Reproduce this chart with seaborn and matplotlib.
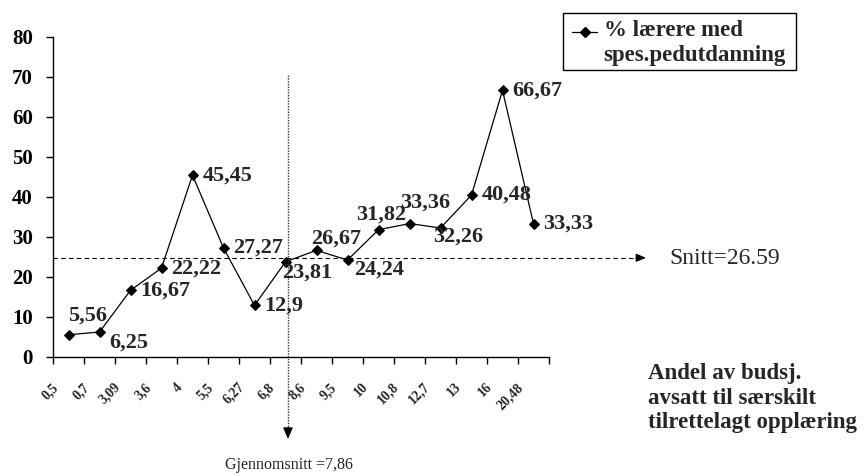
import matplotlib
matplotlib.use("Agg")
import matplotlib.pyplot as plt
import matplotlib.transforms as mtransforms
from matplotlib.lines import Line2D
from matplotlib.patches import Rectangle
import seaborn as sns
import pandas as pd

# ---------------- data ----------------
categories = ["0,5", "0,7", "3,09", "3,6", "4", "5,5", "6,27", "6,8",
              "8,6", "9,5", "10", "10,8", "12,7", "13", "16", "20,48"]
values = [5.56, 6.25, 16.67, 22.22, 45.45, 27.27, 12.9, 23.81,
          26.67, 24.24, 31.82, 33.36, 32.26, 40.48, 66.67, 33.33]
value_labels = ["5,56", "6,25", "16,67", "22,22", "45,45", "27,27", "12,9", "23,81",
                "26,67", "24,24", "31,82", "33,36", "32,26", "40,48", "66,67", "33,33"]
series_name_lines = ["% lærere med", "spes.pedutdanning"]
y_ticks = [0, 10, 20, 30, 40, 50, 60, 70, 80]
snitt_level = 24.8          # where the average line is drawn on the y scale
snitt_text = "Snitt=26.59"
mean_position = 7.08        # where the average line is drawn on the category scale
mean_text = "Gjennomsnitt =7,86"
side_text = "Andel av budsj.\navsatt til særskilt\ntilrettelagt opplæring"

# label offsets (pixels) relative to each point -- layout only
label_offsets = [(0, 19), (10, -11), (10, 0), (10, 0), (10, 0), (10, 0), (10, 0), (-3, -11),
                 (-5, 12), (7, -10), (-22, 15), (-9, 21), (-7, -9), (10, 0), (10, 0), (10, 0)]

# ---------------- style ----------------
sns.set_style("ticks")
plt.rcParams["font.family"] = ["Liberation Serif", "DejaVu Serif"]
plt.rcParams["font.weight"] = "bold"

W, H = 866, 476
fig = plt.figure(figsize=(W / 100, H / 100), dpi=100)
ax = fig.add_axes([53 / W, (H - 357) / H, (549 - 53) / W, (357 - 37) / H])

df = pd.DataFrame({"pos": list(range(len(categories))), "value": values})
sns.lineplot(data=df, x="pos", y="value", marker="D", markersize=5,
             color="black", linewidth=0.9, markeredgecolor="black", ax=ax)

ax.set_xlim(-0.5, len(categories) - 0.5)
ax.set_ylim(0, 80)
ax.set_xlabel("")
ax.set_ylabel("")
for s in ["top", "right"]:
    ax.spines[s].set_visible(False)
for s in ["left", "bottom"]:
    ax.spines[s].set_linewidth(1.0)
    ax.spines[s].set_color("black")

# y axis
ax.set_yticks(y_ticks)
ax.set_yticklabels([str(v) for v in y_ticks], fontsize=15, fontweight="bold")
ax.tick_params(axis="y", direction="out", length=5, width=1, pad=9.5, colors="black")

# x axis: boundaries as minor ticks, labels at centers
ax.set_xticks([i for i in range(len(categories))])
ax.set_xticklabels(categories, fontsize=10, fontweight="bold", rotation=45,
                   ha="right", va="top")
ax.set_xticks([i - 0.5 for i in range(len(categories) + 1)], minor=True)
ax.tick_params(axis="x", which="major", length=0, pad=17)
ax.tick_params(axis="x", which="minor", direction="out", length=5, width=1, colors="black")
shift = mtransforms.ScaledTranslation(-0.08, 0, fig.dpi_scale_trans)
for lab in ax.get_xticklabels():
    lab.set_transform(lab.get_transform() + shift)

# value labels
for i, (v, t) in enumerate(zip(values, value_labels)):
    dx, dy = label_offsets[i]
    ax.annotate(t, xy=(i, v), xytext=(dx, dy), textcoords="offset pixels",
                ha="left", va="center", fontsize=16, fontweight="bold")

# horizontal average line (dashed, with arrow)
tr_h = mtransforms.blended_transform_factory(fig.transFigure, ax.transData)
ax.plot([53 / W, 637 / W], [snitt_level, snitt_level], transform=tr_h, clip_on=False,
        color="black", linewidth=0.8, linestyle=(0, (4, 3)))
ax.annotate("", xy=(646 / W, snitt_level), xytext=(636 / W, snitt_level),
            xycoords=tr_h, textcoords=tr_h, annotation_clip=False,
            arrowprops=dict(arrowstyle="-|>,head_length=0.6,head_width=0.25",
                            color="black", lw=0.8, shrinkA=0, shrinkB=0))
fig.text(669 / W, 1 - 259 / H, snitt_text, ha="left", va="center",
         fontsize=17, fontweight="normal")

# vertical average line (dotted, with arrow)
tr_v = mtransforms.blended_transform_factory(ax.transData, fig.transFigure)
ax.plot([mean_position, mean_position], [1 - 75 / H, 1 - 431 / H], transform=tr_v,
        clip_on=False, color="#333333", linewidth=1.0, linestyle=(0, (1, 1)))
ax.annotate("", xy=(mean_position, 1 - 439 / H), xytext=(mean_position, 1 - 428 / H),
            xycoords=tr_v, textcoords=tr_v, annotation_clip=False,
            arrowprops=dict(arrowstyle="-|>,head_length=0.7,head_width=0.3",
                            color="black", lw=0.8, shrinkA=0, shrinkB=0))
fig.text(289 / W, 1 - 465 / H, mean_text, ha="center", va="center",
         fontsize=11.5, fontweight="normal")

# side text
fig.text(648 / W, 1 - 398 / H, side_text, ha="left", va="center",
         fontsize=16.5, fontweight="bold", linespacing=1.2)

# legend (boxed)
fig.patches.append(Rectangle((563 / W, 1 - 70 / H), (796 - 563) / W, (70 - 13) / H,
                             transform=fig.transFigure, facecolor="white",
                             edgecolor="black", linewidth=1.0, zorder=5))
fig.lines.append(Line2D([572 / W, 597 / W], [1 - 32 / H, 1 - 32 / H],
                        transform=fig.transFigure, color="black", linewidth=0.9,
                        zorder=6))
fig.lines.append(Line2D([584.5 / W], [1 - 32 / H], transform=fig.transFigure,
                        color="black", marker="D", markersize=5, linestyle="none",
                        zorder=6))
fig.text(604 / W, 1 - 31 / H, series_name_lines[0], ha="left", va="center",
         fontsize=16.5, fontweight="bold", zorder=7)
fig.text(603 / W, 1 - 56 / H, series_name_lines[1], ha="left", va="center",
         fontsize=16.5, fontweight="bold", zorder=7)

fig.savefig("out.png", dpi=100)
